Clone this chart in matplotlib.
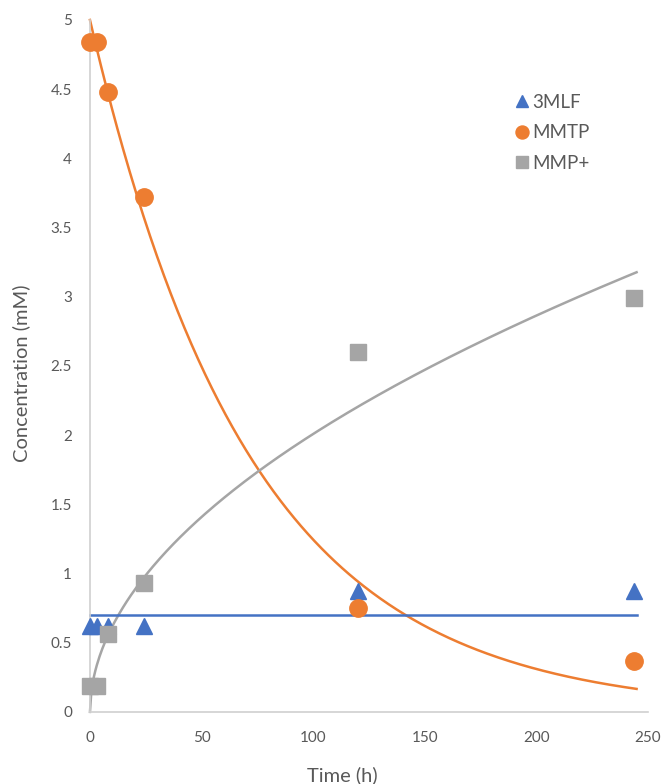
import numpy as np
import matplotlib
matplotlib.use("Agg")
import matplotlib.pyplot as plt

plt.rcParams['font.family'] = ['Lato', 'DejaVu Sans']

# measured data
time_h = [0, 3, 8, 24, 120, 244]
mlf = [0.62, 0.62, 0.62, 0.62, 0.87, 0.87]
mmtp = [4.84, 4.84, 4.48, 3.72, 0.75, 0.37]
mmp = [0.19, 0.19, 0.56, 0.93, 2.60, 2.99]

# trendline parameters
mlf_level = 0.70
mmtp_a, mmtp_k = 5.0, 0.0139
mmp_a, mmp_b = 0.19, 0.512

blue = '#4472C4'
orange = '#ED7D31'
gray = '#A5A5A5'
txt = '#595959'

fig = plt.figure(figsize=(6.64, 7.84), dpi=100)
ax = fig.add_axes([0.1355, 0.092, 0.84, 0.8825])

t = np.linspace(0, 245, 400)
ax.plot(t, mmtp_a * np.exp(-mmtp_k * t), color=orange, lw=1.8, zorder=2)
ax.plot(t, mmp_a * t ** mmp_b, color=gray, lw=1.8, zorder=2)
ax.plot([0, 245], [mlf_level, mlf_level], color=blue, lw=1.8, zorder=2)

ax.plot(time_h, mlf, '^', color=blue, ms=12, ls='none', label='3MLF', zorder=3)
ax.plot(time_h, mmtp, 'o', color=orange, ms=12.5, ls='none', label='MMTP', zorder=3)
ax.plot(time_h, mmp, 's', color=gray, ms=12, ls='none', label='MMP+', zorder=3)

ax.set_xlim(0, 250)
ax.set_ylim(0, 5)
ax.set_xticks([0, 50, 100, 150, 200, 250])
ax.set_yticks([0, 0.5, 1, 1.5, 2, 2.5, 3, 3.5, 4, 4.5, 5])
ax.set_yticklabels(['0', '0.5', '1', '1.5', '2', '2.5', '3', '3.5', '4', '4.5', '5'])
ax.tick_params(length=0, labelsize=11, colors=txt, pad=13)
ax.tick_params(axis='x', pad=14)

for s in ['top', 'right']:
    ax.spines[s].set_visible(False)
ax.spines['left'].set_color('#D0D0D0')
ax.spines['bottom'].set_color('#D0D0D0')
ax.spines['left'].set_linewidth(1.2)
ax.spines['bottom'].set_linewidth(1.2)
for ln in ax.lines:
    ln.set_clip_on(False)

ax.set_xlabel('Time (h)', fontsize=14.5, color=txt)
ax.set_ylabel('Concentration (mM)', fontsize=14.5, color=txt)
ax.xaxis.set_label_coords(0.453, -0.078)
ax.yaxis.set_label_coords(-0.108, 0.49)

ax.legend(loc='upper left', bbox_to_anchor=(0.728, 0.918), frameon=False,
          fontsize=13.5, labelcolor=txt, handletextpad=0.05, markerscale=0.75,
          labelspacing=0.72, handlelength=1.0)

fig.savefig('out.png', dpi=100)
